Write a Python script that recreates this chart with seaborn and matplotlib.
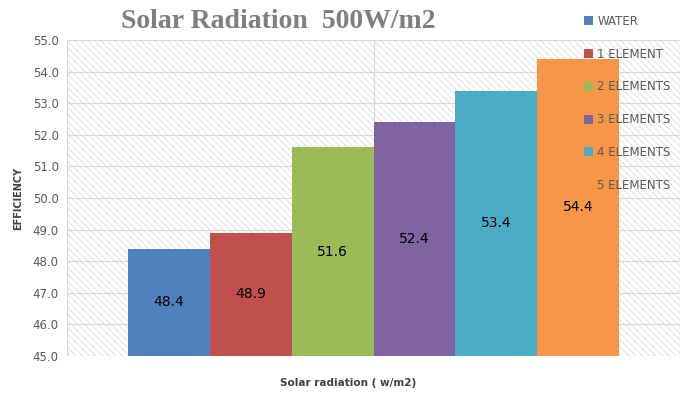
import matplotlib
matplotlib.use("Agg")
import matplotlib.pyplot as plt
import seaborn as sns
import pandas as pd
from matplotlib.patches import Rectangle

series = ["WATER", "1 ELEMENT", "2 ELEMENTS", "3 ELEMENTS", "4 ELEMENTS", "5 ELEMENTS"]
values = [48.4, 48.9, 51.6, 52.4, 53.4, 54.4]
category = ["Solar radiation ( w/m2)"]
colors = ["#4F81BD", "#C0504D", "#9BBB59", "#8064A2", "#4BACC6", "#F79646"]
yticks = [45.0, 46.0, 47.0, 48.0, 49.0, 50.0, 51.0, 52.0, 53.0, 54.0, 55.0]

df = pd.DataFrame({"cat": category * len(series), "series": series, "value": values})

sns.set_style("white")
plt.rcParams["font.family"] = ["DejaVu Sans"]
plt.rcParams["hatch.linewidth"] = 0.5
plt.rcParams["hatch.color"] = "#d6d6d6"

fig = plt.figure(figsize=(6.87, 3.97), dpi=100)
ax = fig.add_axes([67/687, 1-356/397, (680-67)/687, (356-40)/397])

sns.barplot(data=df, x="cat", y="value", hue="series", palette=colors,
            hue_order=series, width=0.8, ax=ax, legend=False, saturation=1,
            linewidth=0, edgecolor="none", zorder=3)

ax.set_ylim(45, 55)
ax.set_xlim(-0.5, 0.5)
ax.set_yticks(yticks)
ax.set_yticklabels([f"{t:.1f}" for t in yticks], fontsize=8.5, color="#595959")
ax.set_xticks([])
ax.tick_params(axis="y", length=0, pad=6)

# hatched background
bg = Rectangle((0, 0), 1, 1, transform=ax.transAxes, facecolor="white",
               edgecolor="#d6d6d6", hatch="\\\\\\\\\\", linewidth=0, zorder=0)
ax.add_patch(bg)
for y in yticks:
    ax.axhline(y, color="#d9d9d9", linewidth=0.9, zorder=1)
ax.axvline(0, color="#d9d9d9", linewidth=0.9, zorder=1)
for s in ax.spines.values():
    s.set_visible(False)
ax.plot([0, 0], [0, 1], transform=ax.transAxes, color="#d9d9d9", lw=0.9, zorder=1)
ax.plot([1, 1], [0, 1], transform=ax.transAxes, color="#d9d9d9", lw=0.9, zorder=1)

for cont, v in zip(ax.containers, values):
    ax.bar_label(cont, labels=[f"{v:.1f}"], label_type="center", fontsize=10, color="black")

ax.set_xlabel("")
ax.set_ylabel("")
fig.text(18/687, 1-198/397, "EFFICIENCY", rotation=90, ha="center", va="center",
         fontsize=7, fontweight="bold", color="#404040")
fig.text(348/687, 1-383/397, "Solar radiation ( w/m2)", ha="center", va="center",
         fontsize=7.5, fontweight="bold", color="#404040")
fig.text(278/687, 1-22/397, "Solar Radiation  500W/m2", ha="center", va="center",
         fontsize=20, fontweight="bold", color="#7f7f7f", family=["Liberation Serif"])

handles = [Rectangle((0, 0), 1, 1, facecolor=c, edgecolor="none") for c in colors]
leg = fig.legend(handles, series, loc="upper left", bbox_to_anchor=(579/687, 1-10/397),
                 frameon=False, fontsize=8.5, handlelength=0.8, handleheight=0.8,
                 handletextpad=0.35, labelspacing=1.68, borderaxespad=0)
for t in leg.get_texts():
    t.set_color("#595959")

fig.savefig("out.png", dpi=100)
